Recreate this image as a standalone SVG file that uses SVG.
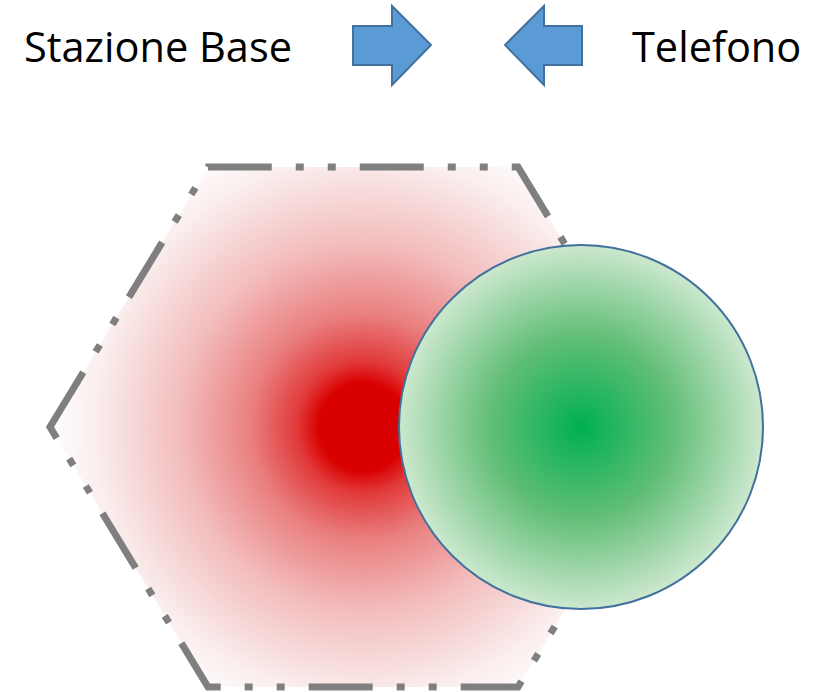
<svg xmlns="http://www.w3.org/2000/svg" width="825" height="692" viewBox="0 0 825 692">
  <defs>
    <radialGradient id="redGrad" gradientUnits="userSpaceOnUse" cx="363" cy="427" r="315">
      <stop offset="0" stop-color="#D90000"/>
      <stop offset="0.14" stop-color="#D90000"/>
      <stop offset="0.21" stop-color="#E13A3A"/>
      <stop offset="0.36" stop-color="#EA8080"/>
      <stop offset="0.58" stop-color="#F3BCBC"/>
      <stop offset="0.85" stop-color="#FAEDED"/>
      <stop offset="1" stop-color="#FFFFFF"/>
    </radialGradient>
    <radialGradient id="greenGrad" gradientUnits="userSpaceOnUse" cx="581" cy="427" r="182">
      <stop offset="0" stop-color="#00B050"/>
      <stop offset="0.5" stop-color="#62BE77"/>
      <stop offset="1" stop-color="#CCE8CE"/>
    </radialGradient>
  </defs>
  <style>
    .label { font-family: "Open Sans", "Liberation Sans", sans-serif; font-size: 41.5px; fill: #000000; }
    .arrow { fill: #5B9BD5; stroke: #41719C; stroke-width: 2; stroke-linejoin: miter; }
    .hexfill { fill: url(#redGrad); stroke: none; }
    .hexline { fill: none; stroke: #7F7F7F; stroke-width: 7; stroke-dasharray: 64 24 8 24 8 24; stroke-linejoin: miter; }
    .phone { fill: url(#greenGrad); stroke: #41719C; stroke-width: 2; }
  </style>

  <g id="label-base">
    <text class="label" x="24" y="62">Stazione Base</text>
  </g>
  <g id="arrow-right">
    <polygon class="arrow" points="353,26 392,26 392,6 431,45 392,85 392,65 353,65"/>
  </g>
  <g id="arrow-left">
    <polygon class="arrow" points="582,26 544,26 544,6 505,45 544,85 544,65 582,65"/>
  </g>
  <g id="label-phone">
    <text class="label" x="632" y="62">Telefono</text>
  </g>

  <g id="cell">
    <path class="hexfill" d="M50,427 L208,167 L518,167 L676,427 L518,687 L208,687 Z"/>
    <path class="hexline" d="M50,427 L208,167 L518,167 L676,427 L518,687 L208,687 Z"/>
  </g>

  <g id="phone-area">
    <circle class="phone" cx="581" cy="427" r="182"/>
  </g>

  <g id="connectors"/>
</svg>
